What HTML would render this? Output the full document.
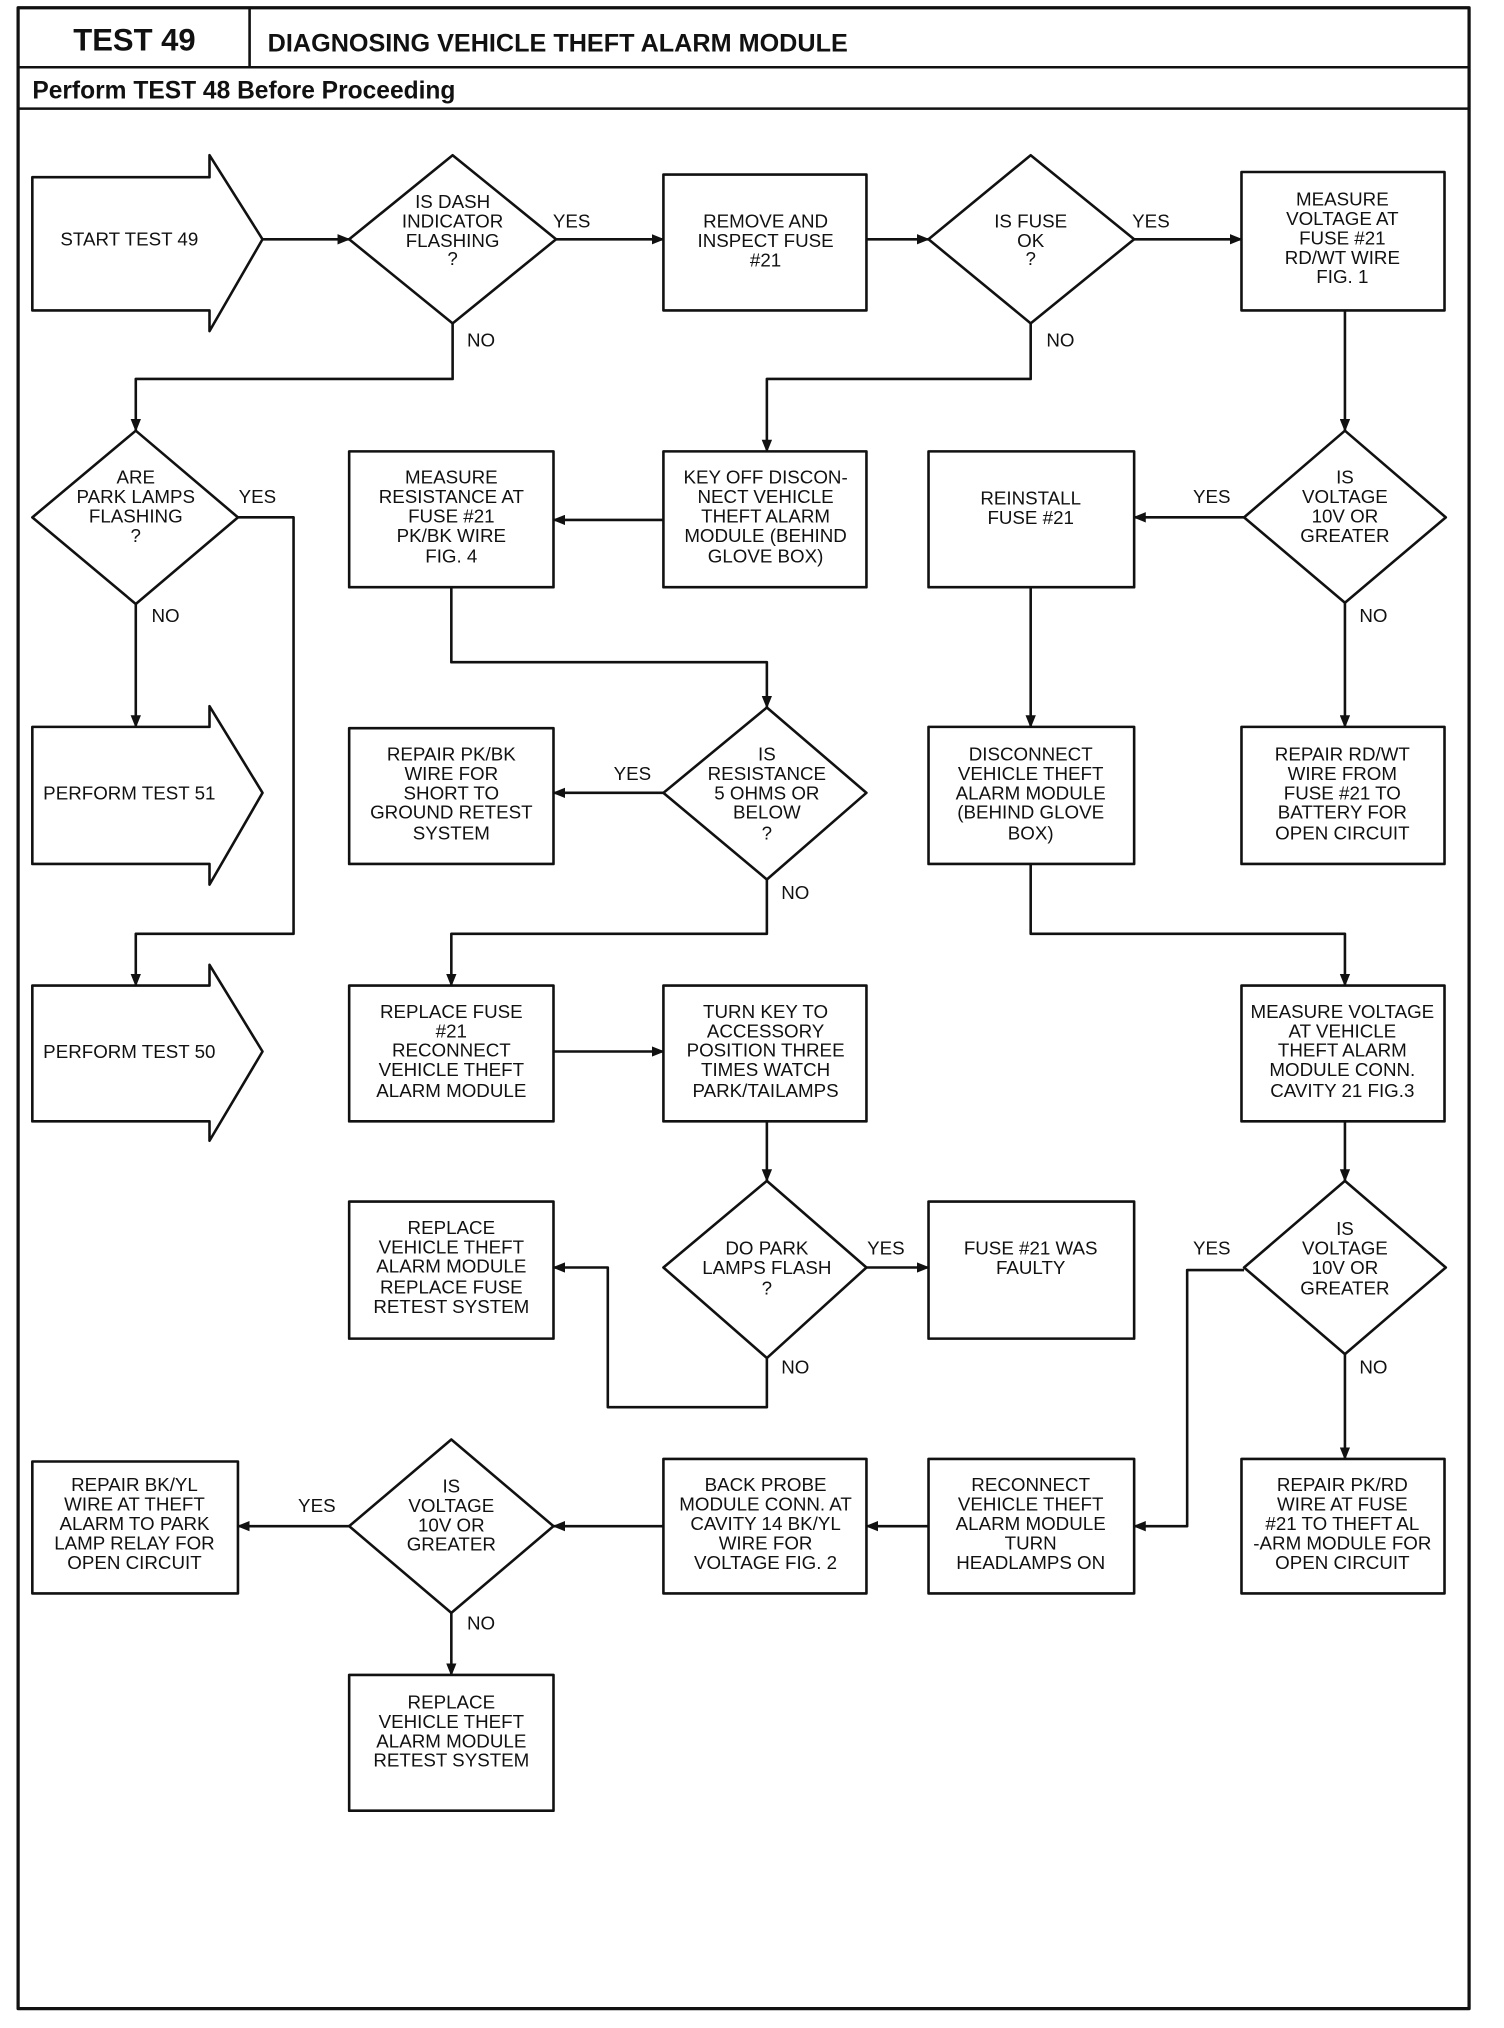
<!DOCTYPE html>
<html><head><meta charset="utf-8"><style>
html,body{margin:0;padding:0;background:#fff}
svg{display:block}
.t{font-family:"Liberation Sans",sans-serif;font-size:14.5px;fill:#111;text-anchor:middle}
.h{font-family:"Liberation Sans",sans-serif;font-weight:bold;fill:#111}
</style></head><body>
<svg width="1504" height="2028" viewBox="0 0 1163 1568" preserveAspectRatio="none" xmlns="http://www.w3.org/2000/svg">
<defs><marker id="a" markerUnits="userSpaceOnUse" markerWidth="10" markerHeight="8" refX="9" refY="4" orient="auto"><path d="M0,0 L10,4 L0,8 z" fill="#111"/></marker></defs>
<g fill="none" stroke="#111" stroke-width="2" stroke-linejoin="round">
<rect x="14" y="6" width="1122" height="1547" stroke-width="2.5"/>
<line x1="193" y1="6" x2="193" y2="52"/>
<line x1="14" y1="52" x2="1136" y2="52"/>
<line x1="14" y1="84" x2="1136" y2="84"/>
<!-- arrows shapes -->
<path d="M25,137 H162 V120 L203,185 L162,256 V240 H25 Z"/>
<path d="M25,562 H162 V546 L203,613 L162,684 V668 H25 Z"/>
<path d="M25,762 H162 V746 L203,813 L162,882 V867 H25 Z"/>
<!-- diamonds -->
<path d="M350,120 L430,185 L350,250 L270,185 Z"/>
<path d="M797,120 L877,185 L797,250 L718,185 Z"/>
<path d="M1040,333 L1118,400 L1040,466 L962,400 Z"/>
<path d="M105,333 L184,400 L105,467 L25,400 Z"/>
<path d="M593,547 L670,613 L593,680 L513,613 Z"/>
<path d="M593,913 L670,980 L593,1050 L513,980 Z"/>
<path d="M1040,913 L1118,980 L1040,1047 L962,980 Z"/>
<path d="M349,1113 L428,1180 L349,1247 L270,1180 Z"/>
<!-- boxes -->
<rect x="513" y="135" width="157" height="105"/>
<rect x="960" y="133" width="157" height="107"/>
<rect x="718" y="349" width="159" height="105"/>
<rect x="960" y="562" width="157" height="106"/>
<rect x="718" y="562" width="159" height="106"/>
<rect x="960" y="762" width="157" height="105"/>
<rect x="960" y="1128" width="157" height="104"/>
<rect x="718" y="1128" width="159" height="104"/>
<rect x="513" y="1128" width="157" height="104"/>
<rect x="25" y="1130" width="159" height="102"/>
<rect x="270" y="1295" width="158" height="105"/>
<rect x="513" y="349" width="157" height="105"/>
<rect x="270" y="349" width="158" height="105"/>
<rect x="270" y="563" width="158" height="105"/>
<rect x="270" y="762" width="158" height="105"/>
<rect x="513" y="762" width="157" height="105"/>
<rect x="718" y="929" width="159" height="106"/>
<rect x="270" y="929" width="158" height="106"/>
<!-- connectors -->
<g marker-end="url(#a)">
<path d="M203,185 H270"/>
<path d="M430,185 H513"/>
<path d="M670,185 H718"/>
<path d="M877,185 H960"/>
<path d="M1040,240 V333"/>
<path d="M962,400 H877"/>
<path d="M1040,466 V562"/>
<path d="M797,454 V562"/>
<path d="M797,668 V722 H1040 V762"/>
<path d="M1040,867 V913"/>
<path d="M962,982 H918 V1180 H877"/>
<path d="M1040,1047 V1128"/>
<path d="M718,1180 H670"/>
<path d="M513,1180 H428"/>
<path d="M270,1180 H184"/>
<path d="M349,1247 V1295"/>
<path d="M350,250 V293 H105 V333"/>
<path d="M105,467 V562"/>
<path d="M184,400 H227 V722 H105 V762"/>
<path d="M797,250 V293 H593 V349"/>
<path d="M513,402 H428"/>
<path d="M349,454 V512 H593 V547"/>
<path d="M513,613 H428"/>
<path d="M593,680 V722 H349 V762"/>
<path d="M428,813 H513"/>
<path d="M593,867 V913"/>
<path d="M670,980 H718"/>
<path d="M593,1050 V1088 H470 V980 H428"/>
</g>
</g>
<text class="h" x="104" y="39" font-size="24" text-anchor="middle">TEST 49</text>
<text class="h" x="207" y="40" font-size="19.5">DIAGNOSING VEHICLE THEFT ALARM MODULE</text>
<text class="h" x="25" y="76" font-size="19">Perform TEST 48 Before Proceeding</text>
<g class="t">
<text x="100" y="190">START TEST 49</text>
<text x="100" y="618">PERFORM TEST 51</text>
<text x="100" y="818">PERFORM TEST 50</text>
<text x="350" y="161">IS DASH</text><text x="350" y="176">INDICATOR</text><text x="350" y="191">FLASHING</text><text x="350" y="205">?</text>
<text x="442" y="176">YES</text><text x="372" y="268">NO</text>
<text x="592" y="176">REMOVE AND</text><text x="592" y="191">INSPECT FUSE</text><text x="592" y="206">#21</text>
<text x="797" y="176">IS FUSE</text><text x="797" y="191">OK</text><text x="797" y="205">?</text>
<text x="890" y="176">YES</text><text x="820" y="268">NO</text>
<text x="1038" y="159">MEASURE</text><text x="1038" y="174">VOLTAGE AT</text><text x="1038" y="189">FUSE #21</text><text x="1038" y="204">RD/WT WIRE</text><text x="1038" y="219">FIG. 1</text>
<text x="1040" y="374">IS</text><text x="1040" y="389">VOLTAGE</text><text x="1040" y="404">10V OR</text><text x="1040" y="419">GREATER</text>
<text x="937" y="389">YES</text><text x="1062" y="481">NO</text>
<text x="797" y="390">REINSTALL</text><text x="797" y="405">FUSE #21</text>
<text x="1038" y="588">REPAIR RD/WT</text><text x="1038" y="603">WIRE FROM</text><text x="1038" y="618">FUSE #21 TO</text><text x="1038" y="633">BATTERY FOR</text><text x="1038" y="649">OPEN CIRCUIT</text>
<text x="797" y="588">DISCONNECT</text><text x="797" y="603">VEHICLE THEFT</text><text x="797" y="618">ALARM MODULE</text><text x="797" y="633">(BEHIND GLOVE</text><text x="797" y="649">BOX)</text>
<text x="1038" y="787">MEASURE VOLTAGE</text><text x="1038" y="802">AT VEHICLE</text><text x="1038" y="817">THEFT ALARM</text><text x="1038" y="832">MODULE CONN.</text><text x="1038" y="848">CAVITY 21 FIG.3</text>
<text x="1040" y="955">IS</text><text x="1040" y="970">VOLTAGE</text><text x="1040" y="985">10V OR</text><text x="1040" y="1001">GREATER</text>
<text x="937" y="970">YES</text><text x="1062" y="1062">NO</text>
<text x="1038" y="1153">REPAIR PK/RD</text><text x="1038" y="1168">WIRE AT FUSE</text><text x="1038" y="1183">#21 TO THEFT AL</text><text x="1038" y="1198">-ARM MODULE FOR</text><text x="1038" y="1213">OPEN CIRCUIT</text>
<text x="797" y="1153">RECONNECT</text><text x="797" y="1168">VEHICLE THEFT</text><text x="797" y="1183">ALARM MODULE</text><text x="797" y="1198">TURN</text><text x="797" y="1213">HEADLAMPS ON</text>
<text x="592" y="1153">BACK PROBE</text><text x="592" y="1168">MODULE CONN. AT</text><text x="592" y="1183">CAVITY 14 BK/YL</text><text x="592" y="1198">WIRE FOR</text><text x="592" y="1213">VOLTAGE FIG. 2</text>
<text x="349" y="1154">IS</text><text x="349" y="1169">VOLTAGE</text><text x="349" y="1184">10V OR</text><text x="349" y="1199">GREATER</text>
<text x="245" y="1169">YES</text><text x="372" y="1260">NO</text>
<text x="104" y="1153">REPAIR BK/YL</text><text x="104" y="1168">WIRE AT THEFT</text><text x="104" y="1183">ALARM TO PARK</text><text x="104" y="1198">LAMP RELAY FOR</text><text x="104" y="1213">OPEN CIRCUIT</text>
<text x="349" y="1321">REPLACE</text><text x="349" y="1336">VEHICLE THEFT</text><text x="349" y="1351">ALARM MODULE</text><text x="349" y="1366">RETEST SYSTEM</text>
<text x="105" y="374">ARE</text><text x="105" y="389">PARK LAMPS</text><text x="105" y="404">FLASHING</text><text x="105" y="419">?</text>
<text x="199" y="389">YES</text><text x="128" y="481">NO</text>
<text x="592" y="374">KEY OFF DISCON-</text><text x="592" y="389">NECT VEHICLE</text><text x="592" y="404">THEFT ALARM</text><text x="592" y="419">MODULE (BEHIND</text><text x="592" y="435">GLOVE BOX)</text>
<text x="349" y="374">MEASURE</text><text x="349" y="389">RESISTANCE AT</text><text x="349" y="404">FUSE #21</text><text x="349" y="419">PK/BK WIRE</text><text x="349" y="435">FIG. 4</text>
<text x="593" y="588">IS</text><text x="593" y="603">RESISTANCE</text><text x="593" y="618">5 OHMS OR</text><text x="593" y="633">BELOW</text><text x="593" y="649">?</text>
<text x="489" y="603">YES</text><text x="615" y="695">NO</text>
<text x="349" y="588">REPAIR PK/BK</text><text x="349" y="603">WIRE FOR</text><text x="349" y="618">SHORT TO</text><text x="349" y="633">GROUND RETEST</text><text x="349" y="649">SYSTEM</text>
<text x="349" y="787">REPLACE FUSE</text><text x="349" y="802">#21</text><text x="349" y="817">RECONNECT</text><text x="349" y="832">VEHICLE THEFT</text><text x="349" y="848">ALARM MODULE</text>
<text x="592" y="787">TURN KEY TO</text><text x="592" y="802">ACCESSORY</text><text x="592" y="817">POSITION THREE</text><text x="592" y="832">TIMES WATCH</text><text x="592" y="848">PARK/TAILAMPS</text>
<text x="593" y="970">DO PARK</text><text x="593" y="985">LAMPS FLASH</text><text x="593" y="1001">?</text>
<text x="685" y="970">YES</text><text x="615" y="1062">NO</text>
<text x="797" y="970">FUSE #21 WAS</text><text x="797" y="985">FAULTY</text>
<text x="349" y="954">REPLACE</text><text x="349" y="969">VEHICLE THEFT</text><text x="349" y="984">ALARM MODULE</text><text x="349" y="1000">REPLACE FUSE</text><text x="349" y="1015">RETEST SYSTEM</text>
</g>
</svg>
</body></html>
